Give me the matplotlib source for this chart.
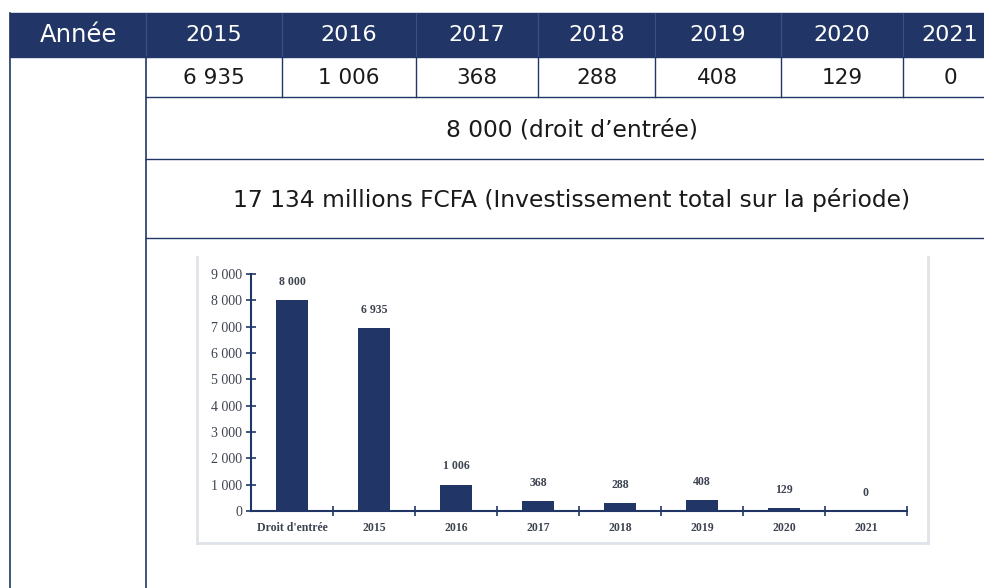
import matplotlib.pyplot as plt
from matplotlib.patches import Rectangle
from matplotlib.ticker import FuncFormatter, FixedLocator, NullFormatter

# Données du tableau
annees = ["2015", "2016", "2017", "2018", "2019", "2020", "2021"]
montants = [6935, 1006, 368, 288, 408, 129, 0]
droit_entree = 8000

# Données du graphique
categories = ["Droit d'entrée"] + annees
valeurs = [droit_entree] + montants
investissement_total = sum(valeurs)

navy = '#213667'
texte = '#1a1a1a'
gris_axes = '#3d4350'


def fmt(v):
    return f"{v:,.0f}".replace(",", " ")


fig = plt.figure(figsize=(9.84, 5.88), dpi=100)

# --- tableau (coordonnées en pixels) ---
tab = fig.add_axes([0, 0, 1, 1])
tab.set_xlim(0, 984)
tab.set_ylim(588, 0)
tab.axis('off')

bords = [10, 146, 282, 416, 538, 655, 781, 903, 997]
y_entete = (13, 57)
y_lignes = [57, 97, 159, 238, 588]
police = 'DejaVu Sans'

tab.add_patch(Rectangle((bords[0], y_entete[0]), 984 - bords[0],
                        y_entete[1] - y_entete[0], color=navy, zorder=1))
for x in bords[1:-1]:
    tab.plot([x, x], y_entete, color='#3b5083', lw=0.8, zorder=2)

centres = [(a + b) / 2 for a, b in zip(bords[:-1], bords[1:])]
ymid = sum(y_entete) / 2
tab.text(centres[0], ymid, "Année", color='white', fontsize=17.5,
         family=police, ha='center', va='center')
for cx, an in zip(centres[1:], annees):
    tab.text(cx, ymid, an, color='white', fontsize=16, family=police,
             ha='center', va='center')

# ligne des montants
for cx, m in zip(centres[1:], montants):
    tab.text(cx, (y_lignes[0] + y_lignes[1]) / 2 + 1, fmt(m), color=texte,
             fontsize=15.5, family=police, ha='center', va='center')
for x in bords[2:-1]:
    tab.plot([x, x], [y_lignes[0], y_lignes[1]], color=navy, lw=1, zorder=2)

# lignes horizontales
for y in y_lignes[1:4]:
    tab.plot([bords[1], 984], [y, y], color=navy, lw=1, zorder=2)
for x in bords[:2]:
    tab.plot([x, x], [y_entete[1] if x == bords[1] else y_entete[0], 588],
             color=navy, lw=1.2, zorder=2)

cx_fusion = (bords[1] + bords[-1]) / 2
tab.text(cx_fusion, (y_lignes[1] + y_lignes[2]) / 2 + 2,
         f"{fmt(droit_entree)} (droit d’entrée)", color=texte,
         fontsize=16.8, family=police, ha='center', va='center')
tab.text(cx_fusion, (y_lignes[2] + y_lignes[3]) / 2 + 2,
         f"{fmt(investissement_total)} millions FCFA (Investissement total sur la période)",
         color=texte, fontsize=16.8, family=police, ha='center', va='center')

# cadre gris clair de l'image du graphique
cadre = dict(color='#dfe3e9', lw=2, zorder=1)
tab.plot([197, 197], [257, 543], **cadre)
tab.plot([197, 928], [543, 543], **cadre)
tab.plot([928, 928], [257, 543], **cadre)

# --- graphique en barres ---
ax = fig.add_axes([251 / 984, 77 / 588, 656 / 984, 237 / 588])
x = list(range(len(categories)))
ax.bar(x, valeurs, width=0.4, color=navy, zorder=3)
ax.set_xlim(-0.5, len(categories) - 0.5)
ax.set_ylim(0, 9000)
ax.set_yticks(range(0, 9001, 1000))
ax.yaxis.set_major_formatter(FuncFormatter(lambda v, p: fmt(v)))

ax.xaxis.set_major_locator(FixedLocator([i + 0.5 for i in x]))
ax.xaxis.set_major_formatter(NullFormatter())
ax.xaxis.set_minor_locator(FixedLocator(x))
ax.set_xticklabels(categories, minor=True)
ax.tick_params(axis='x', which='minor', length=0, pad=8)
ax.tick_params(axis='both', which='major', direction='inout', length=7,
               width=1.2, color=navy)
ax.tick_params(axis='y', labelsize=10, labelcolor=gris_axes, pad=3)

for lab in ax.get_yticklabels():
    lab.set_family('Liberation Serif')
for lab in ax.get_xticklabels(minor=True):
    lab.set_family('Liberation Serif')
    lab.set_fontweight('bold')
    lab.set_fontsize(8.5)
    lab.set_color(gris_axes)

for s in ['top', 'right']:
    ax.spines[s].set_visible(False)
for s in ['left', 'bottom']:
    ax.spines[s].set_color(navy)
    ax.spines[s].set_linewidth(1.5)

for xi, v in zip(x, valeurs):
    ax.annotate(fmt(v), (xi, v), xytext=(0, 13), textcoords='offset points',
                ha='center', va='center', fontsize=8.5, fontweight='bold',
                family='Liberation Serif', color=gris_axes)

ax.patch.set_alpha(0)
fig.savefig('out.png', dpi=100)
